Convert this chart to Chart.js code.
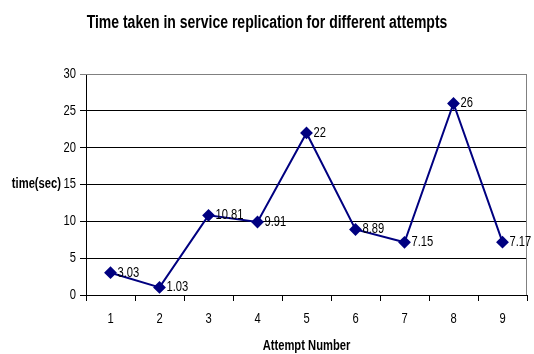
<!DOCTYPE html>
<html>
<head>
<meta charset="utf-8">
<script src="https://cdn.jsdelivr.net/npm/chart.js@4/dist/chart.umd.min.js"></script>
<style>
  html, body { margin: 0; padding: 0; background: #fff; }
  #wrap { width: 534px; height: 354px; }
</style>
</head>
<body>
<div id="wrap"><canvas id="chart-time"></canvas></div>
<script>
var attempts = ['1', '2', '3', '4', '5', '6', '7', '8', '9'];
var times = [3.03, 1.03, 10.81, 9.91, 22, 8.89, 7.15, 26, 7.17];
var yTicks = [0, 5, 10, 15, 20, 25, 30];
var chartTitle = 'Time taken in service replication for different attempts';
var xTitle = 'Attempt Number';
var yTitle = 'time(sec)';

var fontFam = '"Liberation Sans", Arial, sans-serif';
var navy = '#000080';
var squeeze = 0.8; // the original text is narrow, so squash it sideways

function narrowText(ctx, txt, x, y, font, align, base) {
    ctx.save();
    ctx.font = font;
    ctx.textAlign = align;
    ctx.textBaseline = base;
    ctx.translate(x, y);
    ctx.scale(squeeze, 1);
    ctx.fillText(txt, 0, 0);
    ctx.restore();
}

// all the text + gray frame, drawn on top of the library's scales
var extras = {
    id: 'extras',
    afterDatasetsDraw: function(chart) {
        var ctx = chart.ctx;
        var area = chart.chartArea;
        var x = chart.scales.x;
        var y = chart.scales.y;
        ctx.save();
        ctx.strokeStyle = '#808080';
        ctx.lineWidth = 1;
        ctx.beginPath();
        ctx.moveTo(area.left, area.top + 0.5);
        ctx.lineTo(area.right - 0.5, area.top + 0.5);
        ctx.lineTo(area.right - 0.5, area.bottom);
        ctx.stroke();
        ctx.fillStyle = '#000';

        narrowText(ctx, chartTitle, chart.width / 2, 28, 'bold 17.5px ' + fontFam, 'center', 'alphabetic');

        y.ticks.forEach(function(t, i) {
            narrowText(ctx, String(t.value), area.left - 10, y.getPixelForTick(i), '14px ' + fontFam, 'right', 'middle');
        });
        x.ticks.forEach(function(t, i) {
            narrowText(ctx, attempts[i], x.getPixelForTick(i), area.bottom + 24, '14px ' + fontFam, 'center', 'middle');
        });

        narrowText(ctx, xTitle, (area.left + area.right) / 2, 350, 'bold 14px ' + fontFam, 'center', 'alphabetic');
        narrowText(ctx, yTitle, 61, y.getPixelForValue(15), 'bold 14px ' + fontFam, 'right', 'middle');

        chart.getDatasetMeta(0).data.forEach(function(pt, i) {
            narrowText(ctx, String(times[i]), pt.x + 7, pt.y, '14px ' + fontFam, 'left', 'middle');
        });
        ctx.restore();
    }
};

var config = {
    type: 'line',
    data: {
        labels: attempts,
        datasets: [{
            data: times,
            borderColor: navy,
            backgroundColor: navy,
            borderWidth: 2,
            pointStyle: 'rectRot',
            pointRadius: 5,
            pointHoverRadius: 5,
            fill: false,
            tension: 0
        }]
    },
    options: {
        responsive: true,
        maintainAspectRatio: false,
        animation: false,
        events: [],
        layout: { padding: { left: 0, right: 5, top: 74, bottom: 0 } },
        plugins: {
            legend: { display: false },
            tooltip: { enabled: false },
            title: { display: false }
        },
        scales: {
            x: {
                offset: true,
                grid: {
                    display: true,
                    offset: true,
                    drawOnChartArea: false,
                    drawTicks: true,
                    tickLength: 6,
                    color: '#000'
                },
                border: { color: '#000', width: 1 },
                ticks: { display: false },
                afterFit: function(scale) { scale.height = 59; }
            },
            y: {
                min: 0,
                max: 30,
                afterBuildTicks: function(scale) {
                    scale.ticks = yTicks.map(function(v) { return { value: v }; });
                },
                grid: {
                    color: function(c) { return c.tick && c.tick.value === 30 ? '#808080' : '#000'; },
                    drawTicks: true,
                    tickLength: 6
                },
                border: { color: '#000', width: 1 },
                ticks: { display: false },
                afterFit: function(scale) { scale.width = 86; }
            }
        }
    },
    plugins: [extras]
};

var ctx = document.getElementById('chart-time').getContext('2d');
new Chart(ctx, config);
</script>
</body>
</html>
